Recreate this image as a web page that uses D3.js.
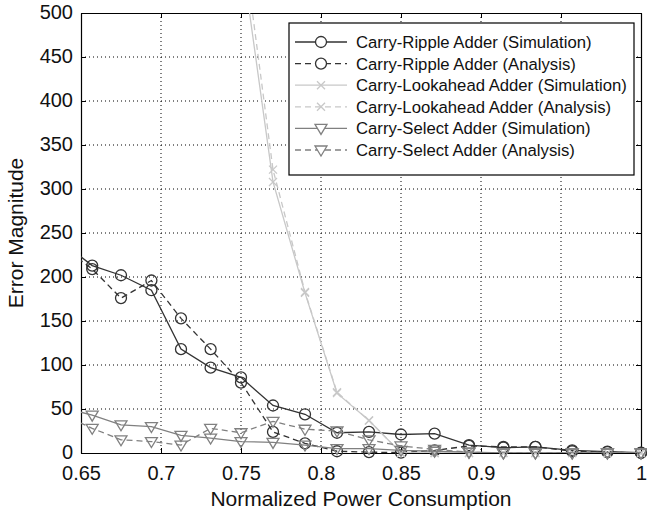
<!DOCTYPE html>
<html>
<head>
<meta charset="utf-8">
<script src="https://cdn.jsdelivr.net/npm/d3@7"></script>
<style>
  body { margin: 0; background: #fff; }
  text { font-family: "Liberation Sans", Arial, sans-serif; }
</style>
</head>
<body>
<svg id="chart" width="647" height="514"></svg>
<script>
// normalized power (x) for every sample
const powerX = [0.638, 0.657, 0.675, 0.694, 0.7125, 0.731, 0.75, 0.77, 0.79, 0.81,
  0.83, 0.85, 0.871, 0.8925, 0.914, 0.934, 0.957, 0.979, 1.0];

const rippleSim = [240, 213, 202, 185, 118, 97, 86, 54, 44, 23, 24, 21, 22, 9, 6, 7, 3, 1.5, 0.5];
const rippleAna = [235, 209, 176, 196, 153, 118, 80, 24, 11, 2, 1, 0.5, 3, 8, 7, 7, 2, 1, 0];
const lookSim = [null, null, null, null, null, null, 570, 308, 182, 68, 37, 0, 0, 0, 0, 0, 0, 0, 0];
const lookAna = [null, null, null, null, null, null, 600, 322, 183, 69, 37, 0, 0, 0, 0, 0, 0, 0, 0];
const selectSim = [52, 43, 32, 30, 20, 17, 13, 12, 9, 5, 5, 3, 2, 1, 0, 0, 0, 0, 0];
const selectAna = [44, 28, 15, 13, 9, 28, 23, 36, 27, 25, 15, 8, 4, 1, 0, 0, 0, 0, 0];

const xTicks = [0.65, 0.7, 0.75, 0.8, 0.85, 0.9, 0.95, 1];
const yTicks = [0, 50, 100, 150, 200, 250, 300, 350, 400, 450, 500];

const seriesList = [
  { name: 'Carry-Ripple Adder (Simulation)', values: rippleSim, color: '#333', dash: null, marker: 'circle' },
  { name: 'Carry-Ripple Adder (Analysis)', values: rippleAna, color: '#333', dash: '6,4', marker: 'circle' },
  { name: 'Carry-Lookahead Adder (Simulation)', values: lookSim, color: '#c8c8c8', dash: null, marker: 'cross' },
  { name: 'Carry-Lookahead Adder (Analysis)', values: lookAna, color: '#c8c8c8', dash: '6,4', marker: 'cross' },
  { name: 'Carry-Select Adder (Simulation)', values: selectSim, color: '#808080', dash: null, marker: 'tri' },
  { name: 'Carry-Select Adder (Analysis)', values: selectAna, color: '#808080', dash: '6,4', marker: 'tri' }
];

const margin = { top: 13, right: 6, bottom: 61, left: 81 };
const width = 647 - margin.left - margin.right;
const height = 514 - margin.top - margin.bottom;

const svg = d3.select('#chart');
const g = svg.append('g').attr('transform', `translate(${margin.left},${margin.top})`);

const x = d3.scaleLinear().domain([0.65, 1]).range([0, width]);
const y = d3.scaleLinear().domain([0, 500]).range([height, 0]);

svg.append('defs').append('clipPath').attr('id', 'plotClip')
  .append('rect').attr('width', width).attr('height', height);

// dotted grid
g.selectAll('.vgrid').data(xTicks.slice(1, -1)).enter().append('line')
  .attr('x1', d => x(d)).attr('x2', d => x(d))
  .attr('y1', 0).attr('y2', height)
  .style('stroke', '#000').style('stroke-width', 1).style('stroke-dasharray', '1,3');
g.selectAll('.hgrid').data(yTicks.slice(1, -1)).enter().append('line')
  .attr('y1', d => y(d)).attr('y2', d => y(d))
  .attr('x1', 0).attr('x2', width)
  .style('stroke', '#000').style('stroke-width', 1).style('stroke-dasharray', '1,3');

// axes (matlab style, inward ticks on all four sides)
const tickLen = 5;
g.append('g').attr('transform', `translate(0,${height})`)
  .call(d3.axisBottom(x).tickValues(xTicks).tickSizeInner(-tickLen).tickSizeOuter(0).tickPadding(13)
    .tickFormat(d => d === 1 ? '1' : d3.format('')(d)));
g.append('g').attr('transform', `translate(${width},0)`)
  .call(d3.axisLeft(y).tickValues(yTicks).tickSize(tickLen).tickFormat('').tickSizeOuter(0));
g.append('g')
  .call(d3.axisBottom(x).tickValues(xTicks).tickSize(tickLen).tickFormat('').tickSizeOuter(0));
const yAxisG = g.append('g')
  .call(d3.axisLeft(y).tickValues(yTicks).tickSizeInner(-tickLen).tickSizeOuter(0).tickPadding(8));
yAxisG.selectAll('.tick text').attr('dy', '0.28em');

g.selectAll('.domain').style('stroke', '#000').style('stroke-width', 1.2);
g.selectAll('.tick line').style('stroke', '#000');
g.selectAll('.tick text').style('font-size', '20px').style('fill', '#111')
  .style('font-family', '"Liberation Sans", Arial, sans-serif');

// lines
const line = d3.line()
  .defined(d => d.v !== null)
  .x(d => x(d.x)).y(d => y(d.v));

function markerPath(type) {
  if (type === 'circle') return d3.symbol().type(d3.symbolCircle).size(Math.PI * 5.5 * 5.5)();
  if (type === 'cross') return 'M-4,-4L4,4M-4,4L4,-4';
  return 'M-6,-4L6,-4L0,6Z';
}

const plot = g.append('g');
seriesList.forEach(s => {
  const pts = powerX.map((px, i) => ({ x: px, v: s.values[i] }));
  plot.append('path')
    .datum(pts)
    .attr('clip-path', 'url(#plotClip)')
    .attr('d', line)
    .style('fill', 'none')
    .style('stroke', s.color)
    .style('stroke-width', 1.3)
    .style('stroke-dasharray', s.dash);
  plot.selectAll(null)
    .data(pts.filter(p => p.v !== null && p.x >= 0.65 && p.v <= 500))
    .enter().append('path')
    .attr('transform', p => `translate(${x(p.x)},${y(p.v)})`)
    .attr('d', markerPath(s.marker))
    .style('fill', 'none')
    .style('stroke', s.color)
    .style('stroke-width', 1.3);
});

// legend
const legend = g.append('g').attr('transform', `translate(${289 - margin.left},${23 - margin.top})`);
legend.append('rect')
  .attr('width', 345).attr('height', 152)
  .style('fill', '#fff').style('stroke', '#000').style('stroke-width', 1.2);
seriesList.forEach((s, i) => {
  const row = legend.append('g').attr('transform', `translate(0,${19 + i * 21.6})`);
  row.append('line')
    .attr('x1', 6).attr('x2', 58).attr('y1', 0).attr('y2', 0)
    .style('stroke', s.color).style('stroke-width', 1.3).style('stroke-dasharray', s.dash);
  row.append('path')
    .attr('transform', 'translate(32,0)')
    .attr('d', markerPath(s.marker))
    .style('fill', '#fff').style('stroke', s.color).style('stroke-width', 1.3);
  row.append('text')
    .attr('x', 67).attr('y', 6)
    .style('font-size', '16.7px').style('fill', '#111')
    .text(s.name);
});

// axis labels
svg.append('text')
  .attr('x', margin.left + width / 2).attr('y', 506)
  .attr('text-anchor', 'middle')
  .style('font-size', '21px').style('fill', '#111')
  .text('Normalized Power Consumption');
svg.append('text')
  .attr('transform', `translate(23,${margin.top + height / 2}) rotate(-90)`)
  .attr('text-anchor', 'middle')
  .style('font-size', '21px').style('fill', '#111')
  .text('Error Magnitude');
</script>
</body>
</html>
